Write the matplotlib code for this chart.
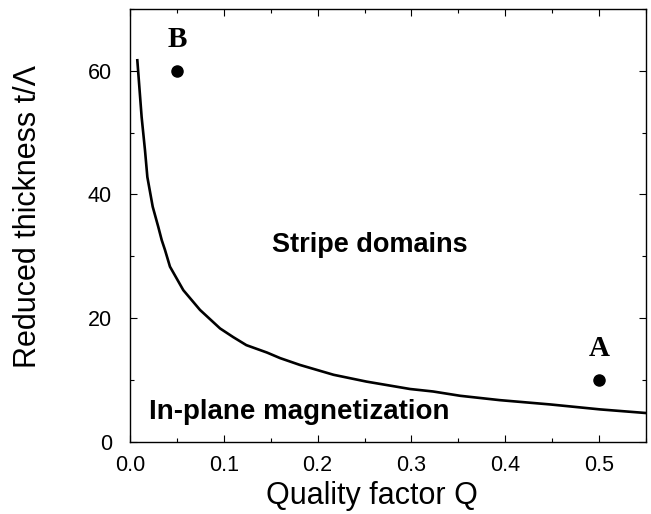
import matplotlib
matplotlib.use('Agg')
import matplotlib.pyplot as plt
from matplotlib.ticker import MultipleLocator

plt.rcParams['font.family'] = ['Liberation Sans', 'DejaVu Sans']

# Phase boundary
q_boundary = [0.0078, 0.0124, 0.016, 0.0185, 0.0242, 0.0302, 0.0338, 0.0373,
              0.0426, 0.0568, 0.0746, 0.096, 0.110, 0.124, 0.146, 0.160,
              0.181, 0.217, 0.252, 0.2985, 0.323, 0.352, 0.394, 0.448,
              0.501, 0.551]
t_boundary = [61.7, 52.5, 47.1, 42.8, 38.0, 34.7, 32.6, 31.0,
              28.3, 24.5, 21.3, 18.3, 16.9, 15.6, 14.4, 13.5,
              12.4, 10.8, 9.7, 8.5, 8.1, 7.4, 6.7, 6.0,
              5.2, 4.6]

# Marked sample points
point_names = ['A', 'B']
point_q = [0.5, 0.05]
point_t = [10, 60]

fig = plt.figure(figsize=(6.51, 5.14), dpi=100)
ax = fig.add_axes([0.1997, 0.141, 0.7926, 0.8415])

ax.plot(q_boundary, t_boundary, color='black', lw=1.9)
ax.plot(point_q, point_t, 'o', color='black', ms=8)

for name, q, t in zip(point_names, point_q, point_t):
    ax.text(q, t + 3.8, name, ha='center', va='baseline',
            family='Liberation Serif', fontweight='bold', fontsize=21)

ax.text(0.256, 31.8, 'Stripe domains', ha='center', va='center',
        fontweight='bold', fontsize=19.5)
ax.text(0.18, 4.8, 'In-plane magnetization', ha='center', va='center',
        fontweight='bold', fontsize=20)

ax.set_xlim(0, 0.55)
ax.set_ylim(0, 70)
ax.xaxis.set_major_locator(MultipleLocator(0.1))
ax.xaxis.set_minor_locator(MultipleLocator(0.05))
ax.yaxis.set_major_locator(MultipleLocator(20))
ax.yaxis.set_minor_locator(MultipleLocator(10))
ax.set_xticks([0, 0.1, 0.2, 0.3, 0.4, 0.5])
ax.set_xticklabels(['0.0', '0.1', '0.2', '0.3', '0.4', '0.5'])
ax.tick_params(which='both', direction='in', top=True, right=True,
               labelsize=15.5, width=0.8)
ax.tick_params(which='major', length=5)
ax.tick_params(axis='x', which='major', pad=10)
ax.tick_params(axis='y', which='major', pad=13)
ax.tick_params(which='minor', length=3)
for s in ax.spines.values():
    s.set_linewidth(1.0)

ax.set_xlabel('Quality factor Q', fontsize=22, va='center')
ax.xaxis.set_label_coords(0.469, -0.125)
ax.set_ylabel('Reduced thickness t/\u039b', fontsize=22, va='center')
ax.yaxis.set_label_coords(-0.198, 0.52)

fig.savefig('out.png', dpi=100)
